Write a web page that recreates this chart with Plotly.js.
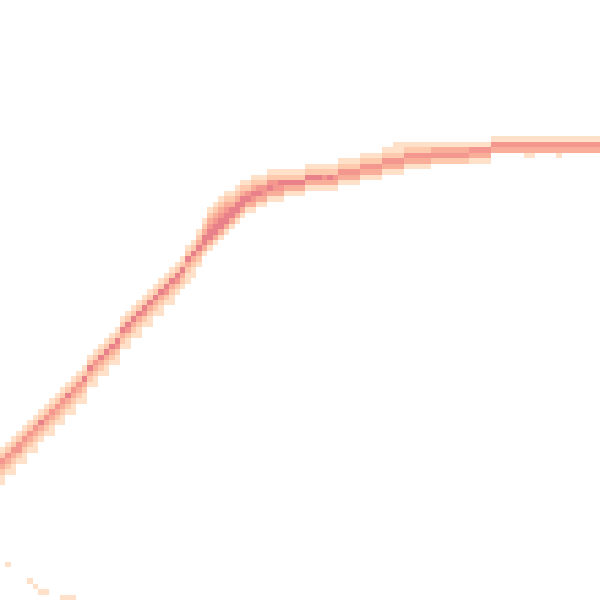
<!DOCTYPE html>
<html>
<head>
<meta charset="utf-8">
<script src="https://cdn.plot.ly/plotly-3.0.1.min.js"></script>
<style>html,body{margin:0;padding:0;background:#fff;}#chart{width:600px;height:600px;}</style>
</head>
<body>
<div id="chart"></div>
<script>
// Top row of the coloured band in each grid column (110 columns x 110 rows)
const colTop = [
  82,81,80,79,78,77,76,75,74,73,72,71,70,69,68,67,65,64,63,62,61,60,58,57,56,55,54,53,52,51,50,49,48,47,
  45,44,42,40,38,37,36,35,35,34,33,33,
  32,32,32,
  31,31,31,31,31,31,31,
  30,30,30,30,30,30,29,29,29,29,
  28,28,28,28,27,27,
  26,26,
  26,26,26,26,26,
  26,26,26,26,26,26,26,
  26,26,26,26,
  25,25,25,25,25,25,25,25,25,25,25,25,25,25,25,25,25,25,25,25
];
// Density level of each cell, downward from the top row (1 = faint ... 5 = densest)
const colLevels = [
  "1243211","124321","1243211","124421","1243211","124321","1243211","125321","124321","1243211",
  "124321","1243211","125321","1243211","124321","1253211","125321","1243211","125321","1253211",
  "125321","1254211","125321","1254211","125321","1253211","125421","1253211","125321","1253211",
  "125421","1253211","125421","125321",
  "1253211","1253211","1235321","1235531",
  "12345531","12345531","12345531","12345531","1235531","1235531","1235531","124531",
  "1235431","124531","124431",
  "124531","124431","125431","12531","12531","12531","12531",
  "12531","12531","12531","12431","12531","12431","12431","12431","12431","12431",
  "12431","12431","12431","12431","12431","12431",
  "112431","112431",
  "12431","12431","12431","12431","12431",
  "1342","1342","1342","1342","1342","1342","1342",
  "1431","1431","1431","1431",
  "143","143","143","143","143","143","1431","1431","143","143",
  "143","143","1431","143","143","143","143","143","143","143"
];
// Isolated faint cells near the bottom-left corner
const spotCol = [1,5,6,7,8,11,12,13];
const spotRow = [103,106,107,108,108,109,109,109];
const spotLevel = [1,1,1,1,1,1,1,1];

const N = 110;
const z = Array.from({length: N}, () => Array(N).fill(null));
colTop.forEach((t, c) => {
  [...colLevels[c]].forEach((ch, i) => { if (t + i < N) z[t + i][c] = Number(ch); });
});
spotCol.forEach((c, i) => { z[spotRow[i]][c] = spotLevel[i]; });

const idx = Array.from({length: N}, (_, i) => i);

Plotly.newPlot('chart', [{
  type: 'heatmap',
  x: idx, y: idx, z: z,
  zmin: 1, zmax: 5,
  colorscale: [[0,'#fee1c8'],[0.25,'#fdcaae'],[0.5,'#f9ae9a'],[0.75,'#f3978f'],[1,'#e9818a']],
  showscale: false,
  hoverinfo: 'skip',
  xgap: 0, ygap: 0
}], {
  width: 600, height: 600,
  margin: {l: 0, r: 0, t: 0, b: 0, pad: 0},
  paper_bgcolor: '#ffffff', plot_bgcolor: '#ffffff',
  xaxis: {visible: false, range: [-0.5, 109.5], fixedrange: true},
  yaxis: {visible: false, range: [109.5, -0.5], fixedrange: true},
  showlegend: false
}, {displayModeBar: false, staticPlot: true});
</script>
</body>
</html>
